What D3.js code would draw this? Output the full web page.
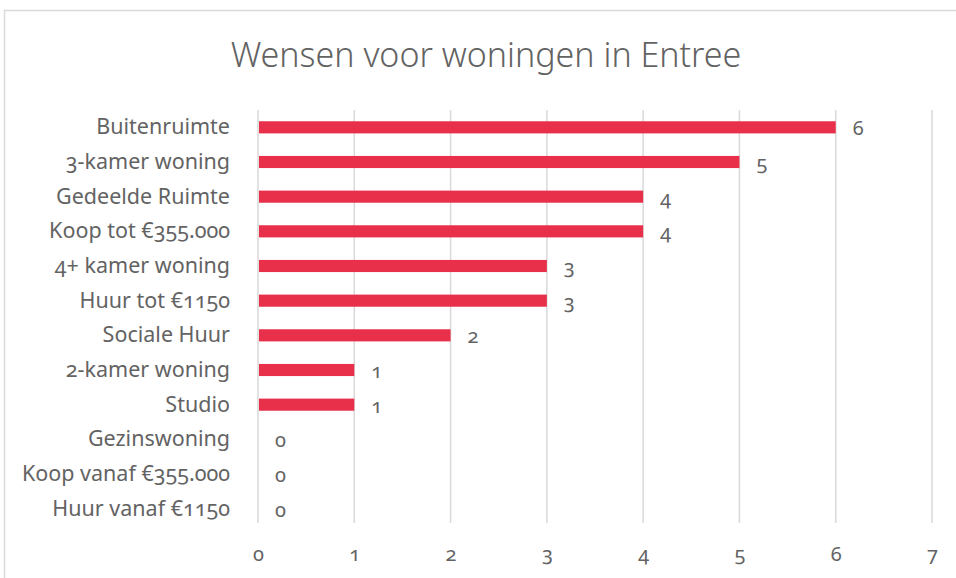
<!DOCTYPE html>
<html><head><meta charset="utf-8">
<script src="https://cdn.jsdelivr.net/npm/d3@7"></script>
<style>
body{margin:0;background:#fff;}
svg text{font-family:"Noto Sans",sans-serif;font-feature-settings:"onum" 1;font-variant-numeric:oldstyle-nums;}
</style></head>
<body><svg id="chart" width="956" height="578"></svg>
<script>
const title = "Wensen voor woningen in Entree";
const categories = ["Buitenruimte","3-kamer woning","Gedeelde Ruimte","Koop tot €355.000","4+ kamer woning","Huur tot €1150","Sociale Huur","2-kamer woning","Studio","Gezinswoning","Koop vanaf €355.000","Huur vanaf €1150"];
const values = [6,5,4,4,3,3,2,1,1,0,0,0];
const xTicks = [0,1,2,3,4,5,6,7];

const svg = d3.select("#chart");
const textColor = "#636363";
const barColor = "#E8304A";
const gridColor = "#d9d9d9";

svg.append("rect").attr("x",4.5).attr("y",10.5).attr("width",960).attr("height",600)
  .attr("fill","#fff").attr("stroke",gridColor).attr("stroke-width",1.5);

const x = d3.scaleLinear().domain([0,7]).range([258,932]);
const y = d3.scaleBand().domain(categories).range([110,526]).paddingInner(0.65).paddingOuter(0.325);

// gridlines
svg.append("g").selectAll("line").data(xTicks).join("line")
  .attr("x1",d=>x(d)).attr("x2",d=>x(d)).attr("y1",110).attr("y2",523)
  .attr("stroke",gridColor).attr("stroke-width",1.5);

// bars
svg.append("g").selectAll("rect").data(values).join("rect")
  .attr("x",x(0)+1).attr("y",(d,i)=>y(categories[i]))
  .attr("width",d=>Math.max(0,x(d)-x(0)-1)).attr("height",y.bandwidth())
  .attr("fill",barColor);

// category labels
svg.append("g").selectAll("text").data(categories).join("text")
  .attr("x",230).attr("y",d=>y(d)+y.bandwidth()/2+7)
  .attr("text-anchor","end").attr("font-size",21.5).attr("fill",textColor).text(d=>d);

// value labels
svg.append("g").selectAll("text").data(values).join("text")
  .attr("x",d=>x(d)+17).attr("y",(d,i)=>y(categories[i])+y.bandwidth()/2+8)
  .attr("font-size",20).attr("fill",textColor).text(d=>d);

// x axis labels
const axis = d3.axisBottom(x).tickValues(xTicks).tickSize(0).tickPadding(0).tickFormat(d3.format("d"));
const ag = svg.append("g").attr("transform","translate(0,547)").call(axis);
ag.select(".domain").remove();
ag.selectAll("text").attr("font-size",20).attr("fill",textColor).attr("font-family",null);

// title
svg.append("text").attr("x",486).attr("y",67).attr("text-anchor","middle")
  .attr("font-size",34).attr("font-weight",300).attr("fill",textColor).text(title);
</script></body></html>
